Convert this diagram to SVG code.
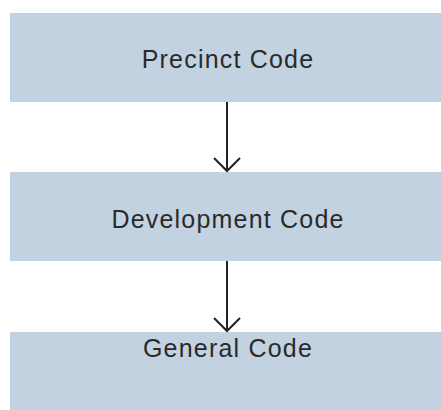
<svg xmlns="http://www.w3.org/2000/svg" width="441" height="410" viewBox="0 0 441 410">
<style>
.box{fill:#c2d2e1}
.lbl{font-family:"Liberation Sans",Arial,sans-serif;font-size:25px;fill:#2a2a2a;text-anchor:middle;letter-spacing:1.2px}
.con{stroke:#222;stroke-width:2;fill:none}
</style>
<g id="precinct"><rect class="box" x="10" y="13" width="431" height="89"/><text class="lbl" x="228" y="68">Precinct Code</text></g>
<g id="development"><rect class="box" x="10" y="172" width="431" height="89"/><text class="lbl" x="228" y="228">Development Code</text></g>
<g id="general"><rect class="box" x="10" y="332" width="431" height="78"/><text class="lbl" x="228" y="357">General Code</text></g>
<g id="connectors">
<path class="con" d="M227 102V171M214 158L227 171L240 158"/>
<path class="con" d="M227 261V331M214 318L227 331L240 318"/>
</g>
</svg>
